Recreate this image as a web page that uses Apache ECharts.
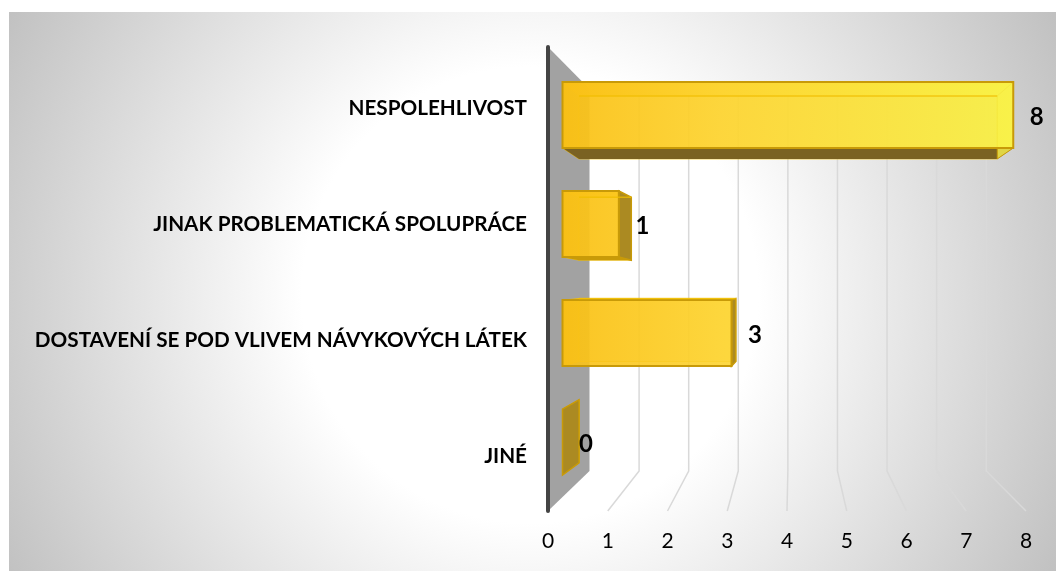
<!DOCTYPE html>
<html>
<head>
<meta charset="utf-8">
<style>
  html, body { margin: 0; padding: 0; background: #fff; }
  #chart { width: 1056px; height: 573px; }
</style>
<script src="https://cdn.jsdelivr.net/npm/echarts@6/dist/echarts.min.js"></script>
</head>
<body>
<div id="chart"></div>
<script>
const categories = ['NESPOLEHLIVOST', 'JINAK PROBLEMATICKÁ SPOLUPRÁCE', 'DOSTAVENÍ SE POD VLIVEM NÁVYKOVÝCH LÁTEK', 'JINÉ'];
const values = [8, 1, 3, 0];
const gridTicks = [1, 2, 3, 4, 5, 6, 7, 8];

const FONT = 'Lato, Carlito, sans-serif';
const ORIGIN_X = 548;

// fake perspective: the chart box has a front floor edge (the axis), a back wall and bars in between
const backX = px => 589.5 + (px - ORIGIN_X) * 0.83;
const barFrontX = px => 562.5 + (px - ORIGIN_X) * 0.943;
const barBackX = px => 579 + (px - ORIGIN_X) * 0.875;
const barFrontY = cy => 16.3 + cy * 0.94;
const barBackY = cy => 35.8 + cy * 0.873;

const poly = (points, style) => ({ type: 'polygon', shape: { points }, style });

const renderWall = (params, api) => {
  const x0 = api.coord([0, 0])[0];
  const top = params.coordSys.y;
  const bottom = top + params.coordSys.height;
  const bx = backX(x0);
  return {
    type: 'group',
    children: [
      poly([[x0, top], [bx, top + 42], [bx, bottom - 40], [x0, bottom]], { fill: '#a2a2a2' }),
      { type: 'line', shape: { x1: x0, y1: top, x2: x0, y2: bottom }, style: { stroke: '#444', lineWidth: 4, lineCap: 'round' } }
    ]
  };
};

const renderGridLine = (params, api) => {
  const x = api.coord([api.value(0), 0])[0];
  const top = params.coordSys.y;
  const bottom = top + params.coordSys.height;
  const bx = backX(x);
  return {
    type: 'polyline',
    shape: { points: [[bx, top + 42], [bx, bottom - 40], [x, bottom]] },
    style: { fill: 'none', stroke: '#d9d9d9', lineWidth: 1.5 }
  };
};

const renderBar = (params, api) => {
  const v = api.value(0);
  const px = api.coord([v, 0])[0];
  const cy = api.coord([0, api.value(1)])[1];
  const x0 = api.coord([0, 0])[0];
  const xEnd = api.coord([8, 0])[0];

  const fl = barFrontX(x0);
  const fr = barFrontX(px);
  const bl = barBackX(x0);
  const br = barBackX(px);
  const ft = barFrontY(cy) - 33;
  const fb = barFrontY(cy) + 33;
  const bt = barBackY(cy) - 31.5;
  const bb = barBackY(cy) + 31.5;

  const yellow = new echarts.graphic.LinearGradient(barFrontX(x0), 0, barFrontX(xEnd), 0, [
    { offset: 0, color: 'rgba(250,192,20,0.9)' },
    { offset: 0.35, color: 'rgba(253,212,48,0.9)' },
    { offset: 1, color: 'rgba(249,242,70,0.9)' }
  ], true);
  const edge = '#c89a08';
  const faint = 'rgba(240,190,0,0.75)';
  const sideDark = br > fr;

  const children = [
    poly([[bl, bt], [br, bt], [br, bb], [bl, bb]], { fill: 'rgba(250,200,30,0.35)', stroke: faint, lineWidth: 1 }),
    poly([[fl, ft], [bl, bt], [bl, bb], [fl, fb]], { fill: 'rgba(240,190,20,0.75)', stroke: faint, lineWidth: 1 }),
    poly([[fl, ft], [fr, ft], [br, bt], [bl, bt]], { fill: yellow })
  ];
  if (bb > fb) {
    // a very flat underside reads as part of the edge line
    children.push(poly([[fl, fb], [fr, fb], [br, bb], [bl, bb]], { fill: bb - fb > 4 ? '#7a6222' : edge }));
  }
  children.push(poly([[fr, ft], [br, bt], [br, bb], [fr, fb]], {
    fill: sideDark ? '#ab8a22' : 'rgba(250,242,80,0.8)',
    stroke: edge,
    lineWidth: sideDark ? 1.5 : 1
  }));
  if (fr > fl) {
    children.push(poly([[fl, ft], [fr, ft], [fr, fb], [fl, fb]], { fill: yellow, stroke: edge, lineWidth: 2 }));
    children.push({ type: 'line', shape: { x1: bl, y1: bt, x2: br, y2: bt }, style: { stroke: faint, lineWidth: 1.5 } });
  }
  children.push({
    type: 'text',
    style: {
      text: String(v),
      x: fr + 23.5,
      y: barFrontY(cy) + 2,
      align: 'center',
      verticalAlign: 'middle',
      font: 'bold 24px ' + FONT,
      fill: '#000'
    }
  });
  return { type: 'group', children };
};

const myChart = echarts.init(document.getElementById('chart'), null, { renderer: 'canvas' });

myChart.setOption({
  animation: false,
  backgroundColor: '#fff',
  graphic: {
    elements: [{
      type: 'rect',
      z: -10,
      shape: { x: 9, y: 12, width: 1047, height: 559 },
      style: {
        fill: new echarts.graphic.RadialGradient(530, 295, 600, [
          { offset: 0, color: '#ffffff' },
          { offset: 0.38, color: '#ffffff' },
          { offset: 1, color: '#c0c0c0' }
        ], true)
      }
    }]
  },
  grid: { left: ORIGIN_X, right: 30, top: 47, bottom: 62 },
  xAxis: {
    type: 'value',
    min: 0,
    max: 8,
    interval: 1,
    axisLine: { show: false },
    axisTick: { show: false },
    splitLine: { show: false },
    axisLabel: { margin: 20, fontFamily: FONT, fontSize: 21, color: '#000' }
  },
  yAxis: {
    type: 'category',
    inverse: true,
    data: categories,
    axisLine: { show: false },
    axisTick: { show: false },
    axisLabel: {
      margin: 21,
      formatter: '{cat|{value}}',
      rich: {
        cat: { padding: [7, 0, 0, 0], fontFamily: FONT, fontSize: 20.7, fontWeight: 'bold', color: '#000' }
      }
    }
  },
  series: [
    { type: 'custom', clip: false, silent: true, z: 1, renderItem: renderGridLine, data: gridTicks.map(t => [t, 0]) },
    { type: 'custom', clip: false, silent: true, z: 2, renderItem: renderWall, data: [[0, 0]] },
    { type: 'custom', clip: false, silent: true, z: 3, renderItem: renderBar, encode: { x: 0, y: 1 }, data: values.map((v, i) => [v, i]) }
  ]
});
</script>
</body>
</html>
